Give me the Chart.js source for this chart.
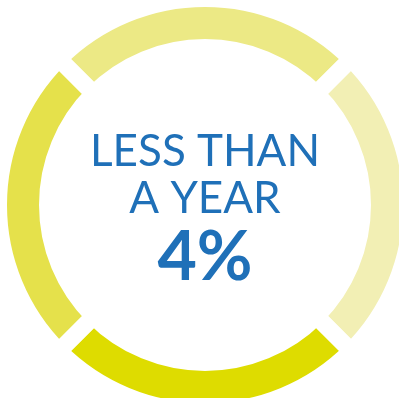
<!DOCTYPE html>
<html>
<head>
<meta charset="utf-8">
<script src="https://cdn.jsdelivr.net/npm/chart.js@4"></script>
<style>
  html, body { margin: 0; padding: 0; background: #fff; overflow: hidden; }
  #wrap { width: 410px; height: 410px; }
</style>
</head>
<body>
<div id="wrap"><canvas id="ring" width="410" height="410"></canvas></div>
<script>
// ring segments, clockwise from the top
const segments = ['Top', 'Right', 'Bottom', 'Left'];
const segmentValues = [25, 25, 25, 25];
const segmentColors = ['#ece985', '#f2efb4', '#dedc00', '#e5e14b'];

const labelLines = ['LESS THAN', 'A YEAR'];
const share = '4%';

const centerText = {
  id: 'centerText',
  afterDraw(chart) {
    const { ctx } = chart;
    const arc = chart.getDatasetMeta(0).data[0];
    const cx = arc.x, cy = arc.y;
    ctx.save();
    ctx.fillStyle = '#1f70b8';
    ctx.textAlign = 'center';
    ctx.textBaseline = 'alphabetic';
    ctx.font = '44px Lato';
    ctx.fillText(labelLines[0], cx, cy - 39);
    ctx.fillText(labelLines[1], cx, cy + 8);
    ctx.font = 'bold 68px Lato';
    ctx.fillText(share, cx, cy + 75);
    ctx.restore();
  }
};

// white border of 17px cuts the gaps and trims 8.5px off each ring edge
new Chart(document.getElementById('ring').getContext('2d'), {
  type: 'doughnut',
  data: {
    labels: segments,
    datasets: [{
      data: segmentValues,
      backgroundColor: segmentColors,
      borderColor: '#ffffff',
      borderWidth: 17,
      borderJoinStyle: 'miter'
    }]
  },
  options: {
    responsive: false,
    animation: false,
    rotation: -45,
    radius: 206.5,
    cutout: '76.27%',
    plugins: {
      legend: { display: false },
      tooltip: { enabled: false }
    }
  },
  plugins: [centerText]
});
</script>
</body>
</html>
